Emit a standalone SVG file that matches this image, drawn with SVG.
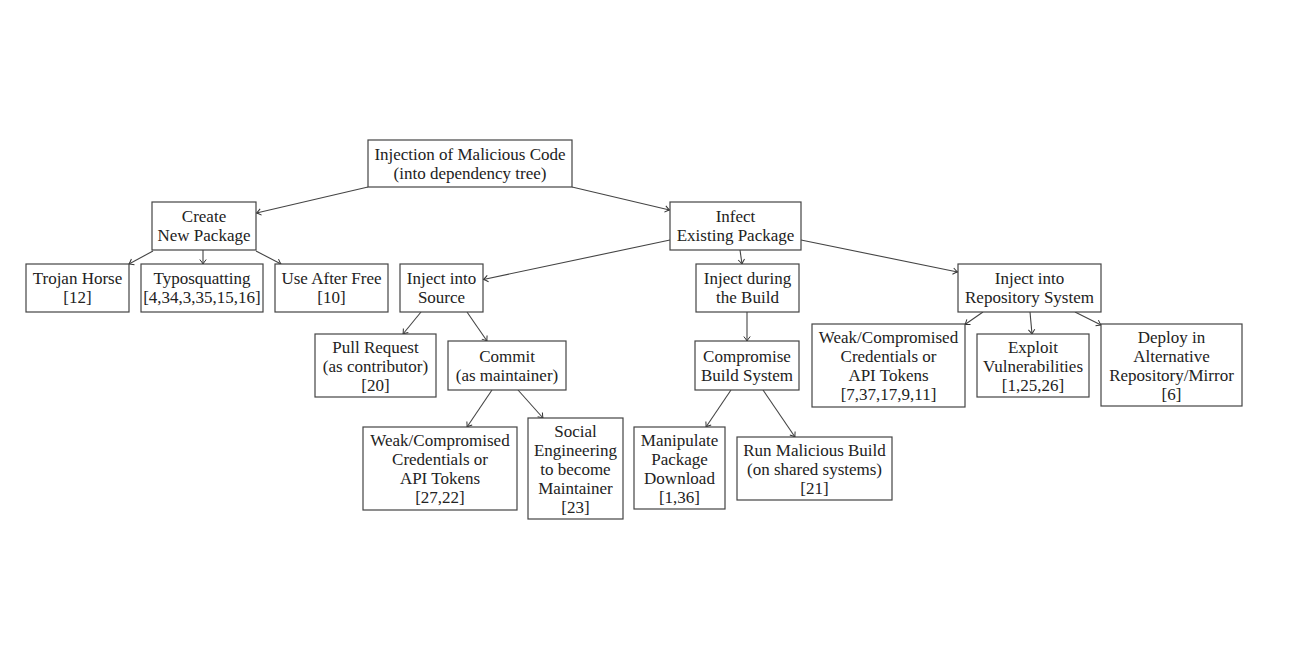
<svg xmlns="http://www.w3.org/2000/svg" width="1300" height="650" viewBox="0 0 1300 650">
<defs>
<marker id="ah" markerUnits="userSpaceOnUse" markerWidth="12" markerHeight="12" viewBox="-6 -6 12 12" refX="0" refY="0" orient="auto">
<path d="M-4.5,-3.2 Q-1.6,-0.9 0,0 Q-1.6,0.9 -4.5,3.2" fill="none" stroke="#333" stroke-width="1"/>
</marker>
<style>
rect{fill:#fff;stroke:#444;stroke-width:1.2}
text{font-family:"Liberation Serif","DejaVu Serif",serif;font-size:17px;fill:#222;text-anchor:middle}
#edges line{stroke:#444;stroke-width:1.1;marker-end:url(#ah)}
</style>
</defs>
<rect x="0" y="0" width="1300" height="650" style="fill:#fff;stroke:none"/>
<g id="edges">
<line x1="368" y1="187" x2="256.5" y2="213"/>
<line x1="572" y1="187" x2="669.5" y2="210"/>
<line x1="153" y1="251" x2="129" y2="264"/>
<line x1="203" y1="250" x2="203" y2="264"/>
<line x1="256" y1="251" x2="281" y2="264"/>
<line x1="670" y1="240" x2="483.5" y2="279.5"/>
<line x1="740" y1="250" x2="742" y2="264"/>
<line x1="801" y1="240" x2="957.5" y2="272"/>
<line x1="421" y1="312" x2="403" y2="334"/>
<line x1="467" y1="312" x2="487" y2="341"/>
<line x1="747" y1="312" x2="747" y2="341"/>
<line x1="983" y1="312" x2="965" y2="324.5"/>
<line x1="1030" y1="312" x2="1032" y2="334"/>
<line x1="1075" y1="312" x2="1101" y2="325"/>
<line x1="492" y1="390" x2="467" y2="427"/>
<line x1="518" y1="390" x2="543" y2="418"/>
<line x1="731" y1="390" x2="706" y2="427"/>
<line x1="763" y1="390" x2="795" y2="437"/>
</g>
<g id="root"><rect x="368" y="140" width="204" height="47"/><text x="470" y="160">Injection of Malicious Code</text><text x="470" y="179">(into dependency tree)</text></g>
<g id="create"><rect x="152" y="202" width="104" height="48"/><text x="204" y="222">Create</text><text x="204" y="241">New Package</text></g>
<g id="infect"><rect x="670" y="202" width="131" height="48"/><text x="735.5" y="222">Infect</text><text x="735.5" y="241">Existing Package</text></g>
<g id="trojan"><rect x="26" y="264" width="103" height="48"/><text x="77.5" y="284">Trojan Horse</text><text x="77.5" y="303">[12]</text></g>
<g id="typo"><rect x="141" y="264" width="122" height="48"/><text x="202" y="284">Typosquatting</text><text x="202" y="303">[4,34,3,35,15,16]</text></g>
<g id="uaf"><rect x="275" y="264" width="113" height="48"/><text x="331.5" y="284">Use After Free</text><text x="331.5" y="303">[10]</text></g>
<g id="source"><rect x="400" y="264" width="83" height="48"/><text x="441.5" y="284">Inject into</text><text x="441.5" y="303">Source</text></g>
<g id="build"><rect x="696" y="264" width="103" height="48"/><text x="747.5" y="284">Inject during</text><text x="747.5" y="303">the Build</text></g>
<g id="repo"><rect x="958" y="264" width="143" height="48"/><text x="1029.5" y="284">Inject into</text><text x="1029.5" y="303">Repository System</text></g>
<g id="pr"><rect x="315" y="334" width="121" height="63"/><text x="375.5" y="352.5">Pull Request</text><text x="375.5" y="371.5">(as contributor)</text><text x="375.5" y="390.5">[20]</text></g>
<g id="commit"><rect x="448" y="341" width="118" height="49"/><text x="507" y="362">Commit</text><text x="507" y="381">(as maintainer)</text></g>
<g id="cbs"><rect x="695" y="341" width="104" height="49"/><text x="747" y="362">Compromise</text><text x="747" y="381">Build System</text></g>
<g id="weakR"><rect x="812" y="324" width="153" height="83"/><text x="888.5" y="343">Weak/Compromised</text><text x="888.5" y="362">Credentials or</text><text x="888.5" y="381">API Tokens</text><text x="888.5" y="400">[7,37,17,9,11]</text></g>
<g id="exploit"><rect x="977" y="334" width="112" height="63"/><text x="1033" y="352.5">Exploit</text><text x="1033" y="371.5">Vulnerabilities</text><text x="1033" y="390.5">[1,25,26]</text></g>
<g id="deploy"><rect x="1101" y="324" width="141" height="82"/><text x="1171.5" y="342.5">Deploy in</text><text x="1171.5" y="361.5">Alternative</text><text x="1171.5" y="380.5">Repository/Mirror</text><text x="1171.5" y="399.5">[6]</text></g>
<g id="weakL"><rect x="363" y="427" width="154" height="83"/><text x="440" y="446">Weak/Compromised</text><text x="440" y="465">Credentials or</text><text x="440" y="484">API Tokens</text><text x="440" y="503">[27,22]</text></g>
<g id="social"><rect x="528" y="418" width="95" height="101"/><text x="575.5" y="436.5">Social</text><text x="575.5" y="455.5">Engineering</text><text x="575.5" y="474.5">to become</text><text x="575.5" y="493.5">Maintainer</text><text x="575.5" y="512.5">[23]</text></g>
<g id="manip"><rect x="634" y="427" width="91" height="82"/><text x="679.5" y="445.5">Manipulate</text><text x="679.5" y="464.5">Package</text><text x="679.5" y="483.5">Download</text><text x="679.5" y="502.5">[1,36]</text></g>
<g id="run"><rect x="737" y="437" width="155" height="63"/><text x="814.5" y="455.5">Run Malicious Build</text><text x="814.5" y="474.5">(on shared systems)</text><text x="814.5" y="493.5">[21]</text></g>
</svg>
